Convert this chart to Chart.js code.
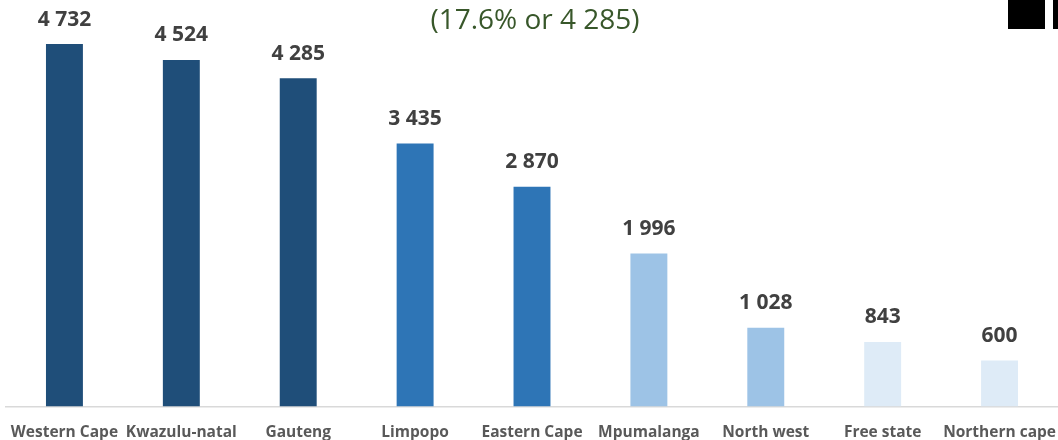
<!DOCTYPE html>
<html>
<head>
<meta charset="utf-8">
<script src="https://cdn.jsdelivr.net/npm/chart.js@4"></script>
<style>
  html, body { margin: 0; padding: 0; background: #ffffff; }
  #wrap { width: 1058px; height: 440px; position: relative; }
</style>
</head>
<body>
<div id="wrap"><canvas id="chart" width="1058" height="440"></canvas></div>
<script>
"use strict";
const provinces = ["Western Cape", "Kwazulu-natal", "Gauteng", "Limpopo", "Eastern Cape",
    "Mpumalanga", "North west", "Free state", "Northern cape"];
const counts = [4732, 4524, 4285, 3435, 2870, 1996, 1028, 843, 600];
const barColors = ["#1F4E79", "#1F4E79", "#1F4E79", "#2E75B6", "#2E75B6",
    "#9DC3E6", "#9DC3E6", "#DEEBF7", "#DEEBF7"];
const headline = "(17.6% or 4 285)";

function formatCount(v) {
    return String(v).replace(/\B(?=(\d{3})+(?!\d))/g, " ");
}

// value labels, category names under the axis, heading text and the corner block
const overlay = {
    id: "overlay",
    afterDatasetsDraw(chart) {
        const c = chart.ctx;
        const meta = chart.getDatasetMeta(0);
        const xs = chart.scales.x;
        c.save();
        c.textAlign = "center";
        c.textBaseline = "alphabetic";
        c.font = "bold 21px 'Open Sans'";
        c.fillStyle = "#404040";
        meta.data.forEach((bar, i) => {
            c.fillText(formatCount(counts[i]), bar.x, bar.y - 18.5);
        });
        c.font = "bold 15.5px 'Open Sans'";
        c.fillStyle = "#595959";
        provinces.forEach((name, i) => {
            c.fillText(name, xs.getPixelForValue(i), 437);
        });
        c.font = "28px 'Open Sans'";
        c.fillStyle = "#38572A";
        c.fillText(headline, 535, 29);
        c.fillStyle = "#000000";
        c.fillRect(1008, 0, 37, 29);
        c.fillRect(1053, 0, 5, 29);
        c.restore();
    }
};

const chart = new Chart(document.getElementById("chart").getContext("2d"), {
    type: "bar",
    data: {
        labels: provinces,
        datasets: [{
            data: counts,
            backgroundColor: barColors,
            borderWidth: 0,
            barPercentage: 0.316,
            categoryPercentage: 1
        }]
    },
    options: {
        responsive: false,
        animation: false,
        layout: { padding: { top: 23.5, left: 6, right: -3, bottom: 33.5 } },
        plugins: {
            legend: { display: false },
            tooltip: { enabled: false }
        },
        scales: {
            x: {
                grid: { display: false, drawTicks: false },
                border: { display: true, color: "#D9D9D9", width: 1.5 },
                ticks: { display: false }
            },
            y: {
                display: false,
                min: 0,
                max: 5000
            }
        }
    },
    plugins: [overlay]
});
</script>
</body>
</html>
